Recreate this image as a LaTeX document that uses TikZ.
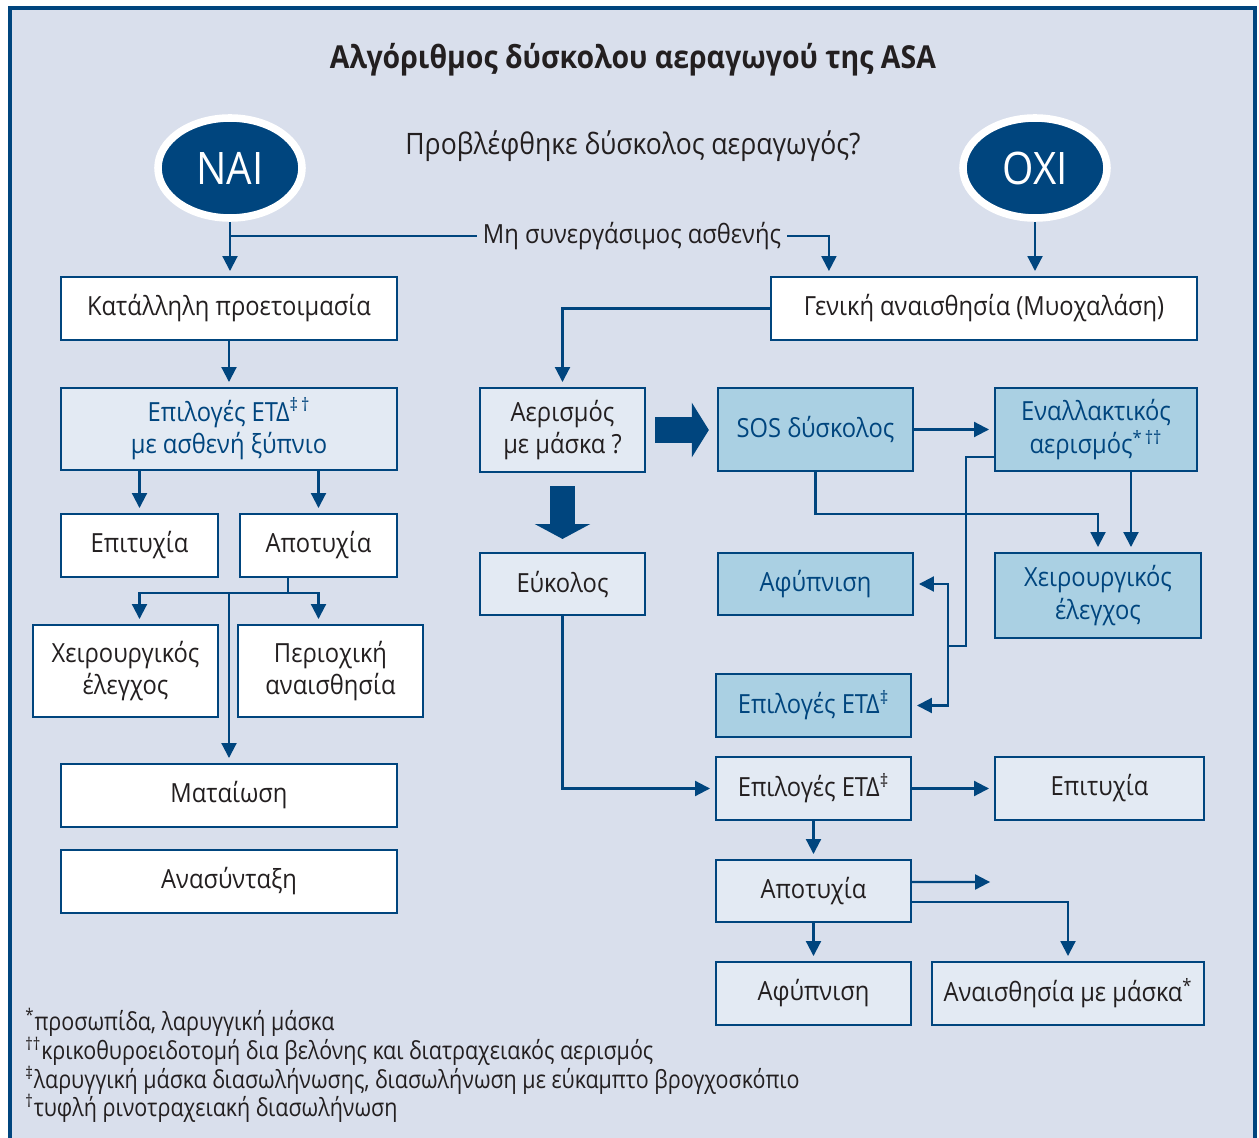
\documentclass[tikz,border=0pt]{standalone}
\usepackage{fontspec}
\setmainfont[FakeStretch=0.9]{Open Sans}
\newfontfamily\notefont[FakeStretch=0.86]{Open Sans}
\usetikzlibrary{arrows.meta,calc,shapes.geometric}

\definecolor{navy}{HTML}{00457E}
\definecolor{bgblue}{HTML}{D9DFEC}
\definecolor{paleblue}{HTML}{E3EAF3}
\definecolor{midblue}{HTML}{AAD0E3}
\definecolor{ink}{HTML}{231F20}

\tikzset{
  txt/.style={text=ink, font=\fontsize{15}{18}\selectfont},
  box/.style={draw=navy, line width=1.2pt, align=center, inner sep=0pt, text=ink,
    font=\fontsize{15}{18.5}\selectfont},
  sz/.style 2 args={minimum width=#1*0.02cm, minimum height=#2*0.02cm},
  plainbox/.style={box, fill=white},
  palebox/.style={box, fill=paleblue},
  midbox/.style={box, fill=midblue, text=navy},
  oval/.style={ellipse, fill=navy, draw=white, line width=4.3pt, inner sep=0pt,
    minimum width=144*0.02cm, minimum height=100*0.02cm, text=white,
    font=\fontsize{25.5}{29}\selectfont},
  note/.style={anchor=west, inner sep=0pt, text=ink, font=\notefont\fontsize{14.2}{16}\selectfont},
  line/.style={draw=navy, line width=1.2pt},
  arr/.style={line, -{Triangle[length=8.5pt,width=8.5pt]}, shorten >=2.8pt},
}

\begin{document}
\begin{tikzpicture}[x=0.02cm, y=-0.02cm]
\useasboundingbox (0,0) rectangle (1259,1138);
\fill [bgblue] (10,8) rectangle (1255,1140);
\draw [navy, line width=1.8pt] (10,1140) -- (10,8) -- (1255,8) -- (1255,1140);

% header
\node (title) at (633,60) [text=ink, font=\bfseries\fontsize{18}{21}\selectfont] {Αλγόριθμος δύσκολου αεραγωγού της ASA};
\node (ask) at (633,146) [txt, font=\fontsize{16.8}{20}\selectfont] {Προβλέφθηκε δύσκολος αεραγωγός?};
\node (yes) at (230,168) [oval] {ΝΑΙ};
\node (no) at (1035,168) [oval] {ΟΧΙ};
\node (uncoop) at (632,236) [txt] {Μη συνεργάσιμος ασθενής};

% left branch
\node (prep) at (229,308.5) [plainbox, sz={336}{63}] {Κατάλληλη προετοιμασία};
\node (awake) at (229,429) [palebox, sz={336}{82}, text=navy] {Επιλογές ΕΤΔ\textsuperscript{‡\,†}\\με ασθενή ξύπνιο};
\node (okL) at (139.5,545.5) [plainbox, sz={157}{63}] {Επιτυχία};
\node (failL) at (318.5,545.5) [plainbox, sz={157}{63}] {Αποτυχία};
\node (surgL) at (125.5,671) [plainbox, sz={185}{92}] {Χειρουργικός\\έλεγχος};
\node (local) at (330.5,671) [plainbox, sz={185}{92}] {Περιοχική\\αναισθησία};
\node (stop) at (229,795.5) [plainbox, sz={336}{63}] {Ματαίωση};
\node (regroup) at (229,881.5) [plainbox, sz={336}{63}] {Ανασύνταξη};
\coordinate (fork) at (288,593);

% right branch
\node (general) at (984,308.5) [plainbox, sz={426}{63}] {Γενική αναισθησία (Μυοχαλάση)};
\node (mask) at (562.5,430) [palebox, sz={165}{84}] {Αερισμός\\με μάσκα ?};
\node (sos) at (815.5,429.5) [midbox, sz={195}{83}] {SOS δύσκολος};
\node (alt) at (1096,429.5) [midbox, sz={202}{83}] {Εναλλακτικός\\αερισμός\textsuperscript{*\,††}};
\node (surgR) at (1098,595.5) [midbox, sz={206}{85}] {Χειρουργικός\\έλεγχος};
\node (wakeM) at (815.5,584) [midbox, sz={195}{62}] {Αφύπνιση};
\node (etdM) at (813.5,705.5) [midbox, sz={195}{63}] {Επιλογές ΕΤΔ\textsuperscript{‡}};
\node (easy) at (562.5,584) [palebox, sz={165}{62}] {Εύκολος};
\node (etd) at (813.5,788.5) [palebox, sz={195}{63}] {Επιλογές ΕΤΔ\textsuperscript{‡}};
\node (okR) at (1099.5,788.5) [palebox, sz={209}{63}] {Επιτυχία};
\node (failR) at (813.5,891) [palebox, sz={195}{62}] {Αποτυχία};
\node (wakeB) at (813.5,993.5) [palebox, sz={195}{63}] {Αφύπνιση};
\node (maskan) at (1068,993.5) [palebox, sz={272}{63}] {Αναισθησία με μάσκα\textsuperscript{*}};
\coordinate (jog) at (966,646);
\coordinate (split) at (948,646);
\coordinate (loose) at (995,882);

% footnotes
\node (n1) at (25,1022) [note] {\textsuperscript{*}προσωπίδα, λαρυγγική μάσκα};
\node (n2) at (25,1051) [note] {\textsuperscript{††}κρικοθυροειδοτομή δια βελόνης και διατραχειακός αερισμός};
\node (n3) at (25,1080) [note] {\textsuperscript{‡}λαρυγγική μάσκα διασωλήνωσης, διασωλήνωση με εύκαμπτο βρογχοσκόπιο};
\node (n4) at (25,1108) [note] {\textsuperscript{†}τυφλή ρινοτραχειακή διασωλήνωση};

% top connectors
\draw [arr] (yes.south) -- (yes.south |- prep.north);
\draw [line] (yes.south |- uncoop.west) -- (uncoop.west);
\draw [arr] (uncoop.east) -| ([xshift=1.18cm]general.north west);
\draw [arr] (no.south) -- (no.south |- general.north);

% left connectors
\draw [arr] (prep) -- (awake);
\draw [arr] (okL.north |- awake.south) -- (okL.north);
\draw [arr] (failL.north |- awake.south) -- (failL.north);
\draw [line] (failL.south -| fork) -- (fork);
\draw [arr] (fork) -| (okL.south |- surgL.north);
\draw [arr] (fork) -| (failL.south |- local.north);
\draw [arr] (stop.north |- fork) -- (stop.north);

% right connectors
\draw [arr] (general.west) -| (mask.north);
\draw [navy, line width=14.8pt, -{Triangle[length=9.7pt,width=30.7pt]}, shorten <=5.1pt, shorten >=4.6pt] (mask.east) -- (mask.east -| sos.west);
\draw [navy, line width=14.2pt, -{Triangle[length=8.5pt,width=31.3pt]}, shorten <=7.4pt, shorten >=7.4pt] (mask.south) -- (easy.north);
\draw [arr] (sos) -- (alt);
\draw [arr] (sos.south) -- ++(0,42) -| (surgR.north);
\draw [arr] ([xshift=0.7cm]alt.south) -- ([xshift=0.7cm]alt.south |- surgR.north);
\draw [line] ([yshift=-0.55cm]alt.west) -| (jog) -- (split);
\draw [arr] (split) |- (wakeM.east);
\draw [arr] (split) |- (etdM.east);
\draw [arr] (easy.south) |- (etd.west);
\draw [arr] (etd) -- (okR);
\draw [arr] (etd) -- (failR);
\draw [arr] ([yshift=0.18cm]failR.east) -- (loose);
\draw [arr] ([yshift=-0.22cm]failR.east) -| (maskan.north);
\draw [arr] (failR) -- (wakeB);

\end{tikzpicture}
\end{document}
